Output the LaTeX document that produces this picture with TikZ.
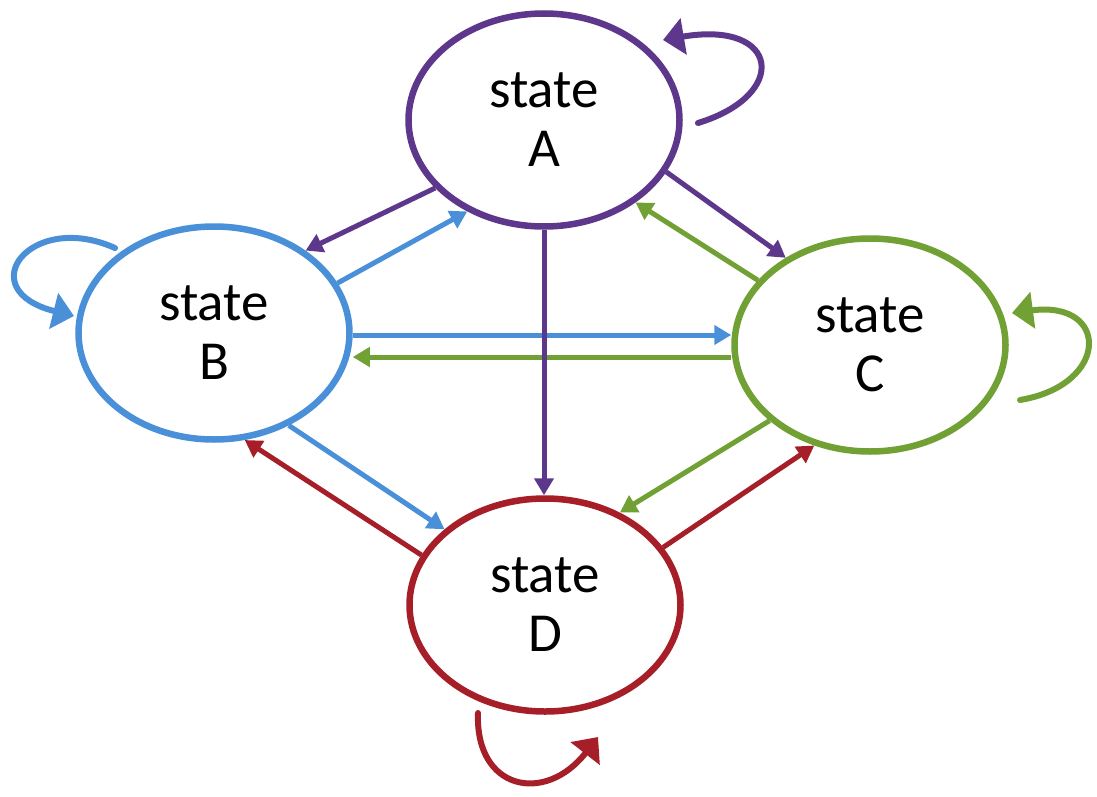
\documentclass[tikz,border=0pt]{standalone}
\usepackage{fontspec}
\setmainfont{Carlito}
\usetikzlibrary{shapes.geometric,arrows.meta,calc}
\definecolor{cpurple}{RGB}{93,55,139}
\definecolor{cblue}{RGB}{74,144,217}
\definecolor{cgreen}{RGB}{113,160,52}
\definecolor{cred}{RGB}{165,30,40}
\tikzset{
  statenode/.style={ellipse, draw=#1, line width=6.5pt, fill=white, inner sep=0pt,
    minimum width=271pt, minimum height=213pt, align=center,
    font=\fontsize{55}{59}\selectfont},
  edge/.style={draw=#1, line width=5pt, -{Triangle[length=17pt,width=19pt]}},
  loopedge/.style={draw=#1, line width=6pt, line cap=round, -{Triangle[length=21pt,width=36pt]}}
}
\begin{document}
\begin{tikzpicture}[x=1pt,y=-1pt]
\useasboundingbox (0,0) rectangle (1097,797);
\node[statenode=cpurple] (A) at (544,120) {state\\A};
\node[statenode=cblue] (B) at (214,333) {state\\B};
\node[statenode=cgreen] (C) at (870,345) {state\\C};
\node[statenode=cred] (D) at (545,605) {state\\D};

% straight connectors
\draw[edge=cpurple] (A.212) -- (B.42);
\draw[edge=cblue] (B.22) -- (A.230);
\draw[edge=cpurple] (A.337) -- (C.134);
\draw[edge=cgreen] (C.150) -- (A.318);
\draw[edge=cblue] ([yshift=-2pt]B.east) -- ([yshift=-2pt]B.east -| C.west);
\draw[edge=cgreen] ([yshift=-12pt]C.west) -- ([yshift=-12pt]C.west -| B.east);
\draw[edge=cpurple] (A.south) -- (A.south |- D.north);
\draw[edge=cblue] (B.309) -- (D.143);
\draw[edge=cred] (D.158) -- (B.286);
\draw[edge=cgreen] (C.217) -- (D.51);
\draw[edge=cred] (D.26) -- (C.241);

% self loops
\coordinate (Aloop) at ($(A)+(154,3)$);
\coordinate (Aend) at ($(A)+(119,-80)$);
\draw[loopedge=cpurple] (Aloop) .. controls ($(A)+(246,-25)$) and ($(A)+(236,-100)$) .. (Aend);
\coordinate (Bloop) at ($(B)+(-99,-85)$);
\coordinate (Bend) at ($(B)+(-140,-17)$);
\draw[loopedge=cblue] (Bloop) .. controls ($(B)+(-184,-123)$) and ($(B)+(-244,-43)$) .. (Bend);
\coordinate (Cloop) at ($(C)+(150,55)$);
\coordinate (Cend) at ($(C)+(142,-32)$);
\draw[loopedge=cgreen] (Cloop) .. controls ($(C)+(240,40)$) and ($(C)+(240,-45)$) .. (Cend);
\coordinate (Dloop) at ($(D)+(-67,108)$);
\coordinate (Dend) at ($(D)+(53,132)$);
\draw[loopedge=cred] (Dloop) .. controls ($(D)+(-70,185)$) and ($(D)+(0,200)$) .. (Dend);
\end{tikzpicture}
\end{document}
